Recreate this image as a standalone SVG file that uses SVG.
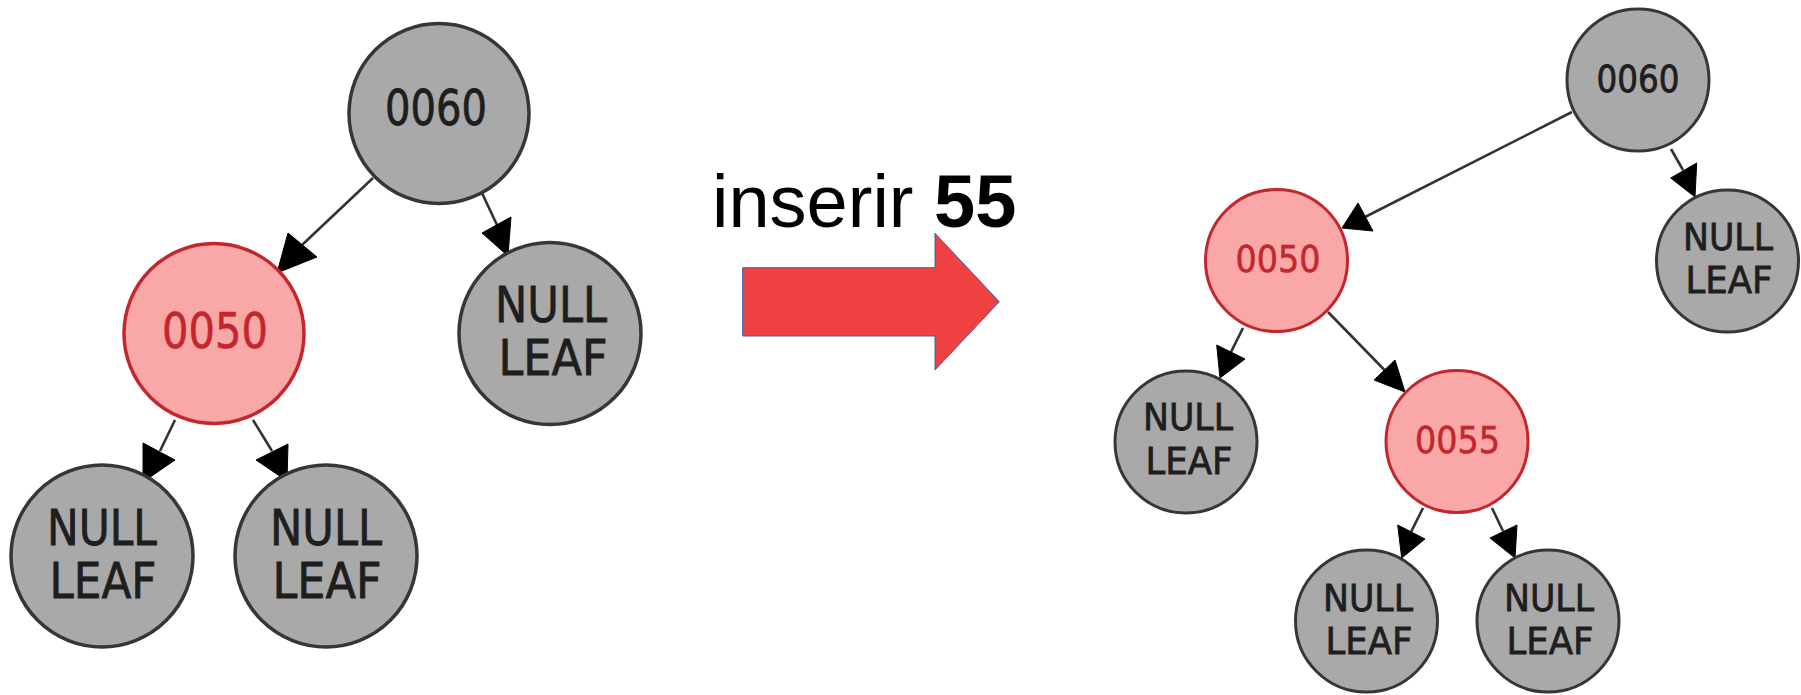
<svg xmlns="http://www.w3.org/2000/svg" width="1801" height="695" viewBox="0 0 1801 695">
<style>
.g{fill:#a9a9a9;stroke:#363636;}
.r{fill:#f9a7a7;stroke:#c4262e;}
.L .g,.L .r{stroke-width:3.5;}
.R .g,.R .r{stroke-width:3;}
.t{font-family:"DejaVu Sans",sans-serif;text-anchor:middle;fill:#1e1e1e;stroke:#1e1e1e;stroke-width:0.8;}
.tr{font-family:"DejaVu Sans",sans-serif;text-anchor:middle;fill:#c4262e;stroke:#c4262e;stroke-width:0.6;}
.L text{font-size:50px;}
.R text{font-size:38px;}
.e line{stroke:#333;stroke-width:2.6;}
.e polygon{fill:#000;stroke:#000;stroke-width:1;}
</style>
<rect width="1801" height="695" fill="#fff"/>
<g id="connectors" class="e">
<line x1="373" y1="178" x2="302" y2="245"/><polygon points="288,233 317,257 277,273"/>
<line x1="482" y1="193" x2="497" y2="225"/><polygon points="482,233 511,217 508,256"/>
<line x1="175" y1="420" x2="160" y2="451"/><polygon points="143,443 175,460 143,482"/>
<line x1="253" y1="420" x2="272" y2="451"/><polygon points="256,460 288,444 287,481"/>
<line x1="1572" y1="112" x2="1365" y2="217"/><polygon points="1358,203 1373,231 1342,228"/>
<line x1="1671" y1="149" x2="1683" y2="170"/><polygon points="1670.7,178 1696.7,163 1695,197"/>
<line x1="1243" y1="328" x2="1231" y2="352"/><polygon points="1216.7,345 1245,359 1220,378"/>
<line x1="1328" y1="312" x2="1384.5" y2="370"/><polygon points="1374,380 1395,360 1405,392"/>
<line x1="1423" y1="508" x2="1411" y2="532"/><polygon points="1397.7,525 1425,539 1401.7,558"/>
<line x1="1492" y1="508" x2="1503" y2="531"/><polygon points="1490,538 1517,525 1515,558"/>
</g>
<g class="L">
<g id="L0060"><circle class="g" cx="439" cy="113.5" r="90"/><text class="t" x="436" y="125" textLength="102" lengthAdjust="spacingAndGlyphs">0060</text></g>
<g id="L0050"><circle class="r" cx="214" cy="333.5" r="90"/><text class="tr" x="215" y="348" textLength="106" lengthAdjust="spacingAndGlyphs">0050</text></g>
<g id="Lnull1"><circle class="g" cx="550" cy="333.5" r="91"/><text class="t" x="551" y="322" textLength="112" lengthAdjust="spacingAndGlyphs">NULL</text><text class="t" x="553" y="375" textLength="109" lengthAdjust="spacingAndGlyphs">LEAF</text></g>
<g id="Lnull2"><circle class="g" cx="102" cy="556" r="91"/><text class="t" x="102" y="545" textLength="110" lengthAdjust="spacingAndGlyphs">NULL</text><text class="t" x="103" y="598" textLength="107" lengthAdjust="spacingAndGlyphs">LEAF</text></g>
<g id="Lnull3"><circle class="g" cx="326" cy="556" r="91"/><text class="t" x="326" y="545" textLength="112" lengthAdjust="spacingAndGlyphs">NULL</text><text class="t" x="327" y="598" textLength="109" lengthAdjust="spacingAndGlyphs">LEAF</text></g>
</g>
<g id="insert">
<text x="712" y="227" font-family="Liberation Sans, Arial, sans-serif" font-size="74" fill="#000">inserir <tspan font-weight="bold">55</tspan></text>
<polygon points="742.7,267.7 935,267.7 935,233.3 999.3,301.7 935,370 935,336 742.7,336" fill="#ef4141" stroke="#3465a4" stroke-width="1"/>
</g>
<g class="R">
<g id="R0060"><circle class="g" cx="1638" cy="80" r="71"/><text class="t" x="1638" y="91.7" textLength="83" lengthAdjust="spacingAndGlyphs">0060</text></g>
<g id="Rnull1"><circle class="g" cx="1727.5" cy="261" r="71"/><text class="t" x="1728" y="250" textLength="90" lengthAdjust="spacingAndGlyphs">NULL</text><text class="t" x="1729" y="293" textLength="87" lengthAdjust="spacingAndGlyphs">LEAF</text></g>
<g id="R0050"><circle class="r" cx="1276.5" cy="260.5" r="71"/><text class="tr" x="1278" y="272" textLength="85" lengthAdjust="spacingAndGlyphs">0050</text></g>
<g id="Rnull2"><circle class="g" cx="1186" cy="442" r="71"/><text class="t" x="1188" y="430" textLength="90" lengthAdjust="spacingAndGlyphs">NULL</text><text class="t" x="1189" y="474" textLength="87" lengthAdjust="spacingAndGlyphs">LEAF</text></g>
<g id="R0055"><circle class="r" cx="1457" cy="441.5" r="71"/><text class="tr" x="1457.5" y="453" textLength="85" lengthAdjust="spacingAndGlyphs">0055</text></g>
<g id="Rnull3"><circle class="g" cx="1366.5" cy="621" r="71"/><text class="t" x="1368" y="611" textLength="90" lengthAdjust="spacingAndGlyphs">NULL</text><text class="t" x="1369" y="654" textLength="87" lengthAdjust="spacingAndGlyphs">LEAF</text></g>
<g id="Rnull4"><circle class="g" cx="1548" cy="621" r="71"/><text class="t" x="1549" y="611" textLength="90" lengthAdjust="spacingAndGlyphs">NULL</text><text class="t" x="1550" y="654" textLength="87" lengthAdjust="spacingAndGlyphs">LEAF</text></g>
</g>
</svg>
